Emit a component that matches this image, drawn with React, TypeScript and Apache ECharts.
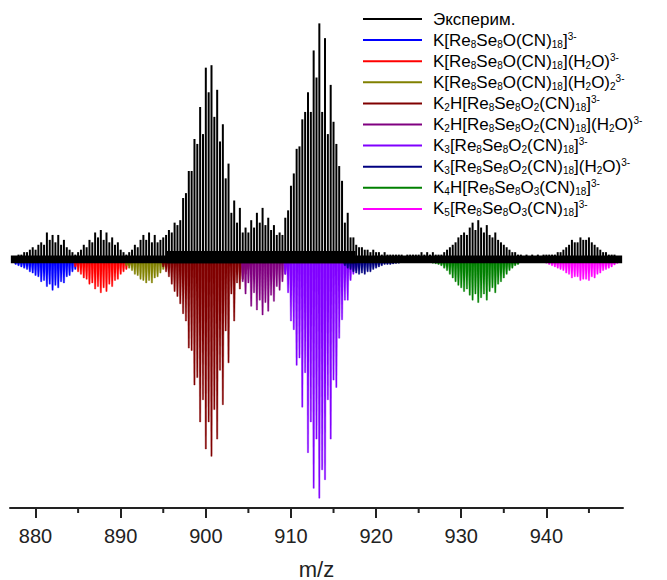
import React, { useEffect, useRef } from "react";
import * as echarts from "echarts";

const FONT = "'Liberation Sans', Arial, Helvetica, sans-serif";

// Isotope spacing for charge 3- ions (m/z units)
const STEP = 1 / 3;

// Experimental spectrum (stick heights, % of full scale), consecutive isotope peaks
const expStart = 877 + 1 / 3;
const expA = [2, 2, 3, 3, 4, 4, 5, 6, 5, 7, 8, 7, 12, 9, 11, 8, 11, 7, 9, 6, 5, 4, 3, 4];
const expB = [5, 7, 6, 9, 8, 12, 10, 13, 9, 12, 8, 10, 7, 8, 5, 4, 3, 4];
const expC = [5, 7, 6, 9, 11, 9, 12, 8, 11, 8, 9, 10, 11, 13, 12, 16, 15];
const expD = [
  17, 26, 28, 37, 37, 50, 48, 63, 52, 79, 69, 80, 59, 70, 49, 56, 34, 40, 20, 25,
  16, 22, 12, 14, 12, 17, 14, 20, 16, 22, 15, 18, 13, 15, 11, 12, 11, 18, 21, 31,
  36, 46, 47, 58, 61, 69, 61, 86, 75, 97, 61, 91, 52, 72, 57, 48, 39, 33, 16, 20,
  10, 10, 7, 6,
];
const expE = [6, 5, 5, 4, 5, 4, 4, 3, 4, 3, 3, 3, 3, 3, 3, 2, 3, 3, 3, 3, 3, 4, 3, 4, 3, 4, 3];
const expF = [3, 3, 4, 5, 6, 7, 8, 10, 11, 12, 11, 14, 16, 13, 17, 14, 12, 15, 11, 10, 12, 9, 8, 7, 6, 5, 4, 4, 3];
const expG = [3, 2, 3, 2, 3, 2, 3, 2, 3, 3, 3, 3, 3, 4, 4, 5, 6, 7, 9, 8, 8, 10, 9, 9, 10, 8, 7, 6, 5, 4, 4, 3, 3, 3, 2, 2];

// Baseline noise of the experimental trace: [from m/z, to m/z, low, high]
const noiseBands = [
  [877.1, 948.9, -0.5, 2.6],
  [895.4, 917.6, -0.5, 4.5],
];

// Simulated spectra (depth below baseline), first m/z and consecutive isotope peaks
const simBlueStart = 877 + 2 / 3;
const simBlue = [1, 1.5, 2, 2.5, 3, 4, 4.5, 5.5, 6, 8, 7.5, 10, 9, 11.5, 9.5, 10.5, 8, 8.5, 6, 5.5, 4, 3, 1.5];
const simRedStart = 884 + 2 / 3;
const simRed = [2, 4, 5, 6.5, 7, 9, 8.5, 11, 10, 12.5, 10.5, 12, 9, 10, 7.5, 7, 5, 4, 3, 1.5];
const simOliveStart = 890 + 2 / 3;
const simOlive = [1.5, 2.5, 3.5, 5, 5.5, 7, 7.5, 8.5, 7.5, 8.5, 6.5, 6, 4.5, 3, 2];
const simWineStart = 895;
const simWine = [2, 4, 6, 9, 12, 14, 17, 21, 24, 35, 36, 50, 47, 65, 56, 76, 65, 79, 60, 72, 44, 58, 28, 41, 13, 24, 8.5, 11, 7, 5, 3, 2];
const simPurpleStart = 904 + 1 / 3;
const simPurple = [8, 13, 8.5, 18, 12.5, 19.5, 15.5, 21.5, 16.5, 20, 13.5, 16, 10, 11.5, 8, 5, 3];
const simVioletStart = 909 + 1 / 3;
const simViolet = [5, 12.5, 24, 27.5, 42, 39, 59, 45, 77.5, 65, 92, 72, 96, 84.5, 88.5, 56, 72, 48, 51, 31, 23.5, 15.5, 15.5, 7.5, 5, 3.5, 1.5];
const simNavyStart = 916 + 1 / 3;
const simNavy = [1.5, 2.5, 3, 4, 4.5, 5, 4.5, 5, 4, 4, 3, 2.5, 2, 1.5, 1, 1, 1, 0.8, 0.6, 0.5];
const simGreenStart = 926 + 2 / 3;
const simGreen = [0.5, 0.7, 1, 1.5, 2.5, 3.5, 5, 6.5, 8, 9.5, 10.5, 12, 11, 13.5, 15.5, 13, 16.5, 14.5, 13, 15.5, 12, 10.5, 12.5, 9, 8, 6.5, 5, 3.5, 2.5, 1.5, 1];
const simMagentaStart = 940;
const simMagenta = [0.5, 1, 1.5, 2, 2.5, 3, 3.5, 4.5, 5, 6.5, 6, 6, 7.5, 7, 7, 7.5, 6, 6.5, 5, 4.5, 3.5, 3, 2.5, 2, 1.2, 0.6];

// Axis ticks
const majorTicks = [880, 890, 900, 910, 920, 930, 940];
const minorTicks = [885, 895, 905, 915, 925, 935, 945];

// Legend names (plain) and rich-text labels
const expName = "Эксперим.";
const simNames = [
  "K[Re8Se8O(CN)18]3-",
  "K[Re8Se8O(CN)18](H2O)3-",
  "K[Re8Se8O(CN)18](H2O)2 3-",
  "K2H[Re8Se8O2(CN)18]3-",
  "K2H[Re8Se8O2(CN)18](H2O)3-",
  "K3[Re8Se8O2(CN)18]3-",
  "K3[Re8Se8O2(CN)18](H2O)3-",
  "K4H[Re8Se8O3(CN)18]3-",
  "K5[Re8Se8O3(CN)18]3-",
];
const simLabels = [
  "K[Re{s|8}Se{s|8}O(CN){s|18}]{p|3-}",
  "K[Re{s|8}Se{s|8}O(CN){s|18}](H{s|2}O){p|3-}",
  "K[Re{s|8}Se{s|8}O(CN){s|18}](H{s|2}O){s|2}{p|3-}",
  "K{s|2}H[Re{s|8}Se{s|8}O{s|2}(CN){s|18}]{p|3-}",
  "K{s|2}H[Re{s|8}Se{s|8}O{s|2}(CN){s|18}](H{s|2}O){p|3-}",
  "K{s|3}[Re{s|8}Se{s|8}O{s|2}(CN){s|18}]{p|3-}",
  "K{s|3}[Re{s|8}Se{s|8}O{s|2}(CN){s|18}](H{s|2}O){p|3-}",
  "K{s|4}H[Re{s|8}Se{s|8}O{s|3}(CN){s|18}]{p|3-}",
  "K{s|5}[Re{s|8}Se{s|8}O{s|3}(CN){s|18}]{p|3-}",
];
const simColors = ["#0000ff", "#ff0000", "#808000", "#800000", "#800080", "#8000ff", "#000080", "#008000", "#ff00ff"];
const simSets: [number, number[]][] = [
  [simBlueStart, simBlue],
  [simRedStart, simRed],
  [simOliveStart, simOlive],
  [simWineStart, simWine],
  [simPurpleStart, simPurple],
  [simVioletStart, simViolet],
  [simNavyStart, simNavy],
  [simGreenStart, simGreen],
  [simMagentaStart, simMagenta],
];

const Y_MIN = -100;
const Y_MAX = 100;

function toPairs(start: number, vals: number[]): number[][] {
  return vals.map((v, i) => [start + i * STEP, v]);
}

export default function App() {
  const ref = useRef<HTMLDivElement>(null);
  useEffect(() => {
    if (!ref.current) return;
    const chart = echarts.init(ref.current, undefined, { renderer: "svg" });
    const expAll = [...expA, ...expB, ...expC, ...expD, ...expE, ...expF, ...expG];
    const expData = toPairs(expStart, expAll);

    const HALF_BASE = 1 / 6;
    const HALF_TIP = 0.07;

    const simSeries = simSets.map(([start, vals], k) => {
      const color = simColors[k];
      return {
        name: simNames[k],
        type: "custom",
        z: 2,
        itemStyle: { color },
        encode: { x: 0, y: 1 },
        data: toPairs(start, vals),
        renderItem: (params: any, api: any) => {
          const x = api.value(0);
          const h = api.value(1);
          const a = api.coord([x - HALF_BASE, 0]);
          const b = api.coord([x - HALF_TIP, -h]);
          const c = api.coord([x + HALF_TIP, -h]);
          const d = api.coord([x + HALF_BASE, 0]);
          return {
            type: "polygon",
            shape: { points: [a, b, c, d] },
            style: { fill: color, stroke: color, lineWidth: 0.4 },
          };
        },
      };
    });

    const expSeries = {
      name: expName,
      type: "custom",
      z: 4,
      itemStyle: { color: "#000" },
      encode: { x: 0, y: 1 },
      data: expData,
      renderItem: (params: any, api: any) => {
        const x = api.value(0);
        const h = api.value(1);
        const p0 = api.coord([x, 0]);
        const p1 = api.coord([x, h]);
        return {
          type: "line",
          shape: { x1: p0[0], y1: p0[1], x2: p1[0], y2: p1[1] },
          style: { stroke: "#000", lineWidth: 2 },
        };
      },
    };

    const noiseSeries = {
      name: "noise",
      type: "custom",
      z: 3,
      silent: true,
      itemStyle: { color: "#000" },
      encode: { x: [0, 1], y: [2, 3] },
      data: noiseBands,
      renderItem: (params: any, api: any) => {
        const p0 = api.coord([api.value(0), api.value(3)]);
        const p1 = api.coord([api.value(1), api.value(2)]);
        return {
          type: "rect",
          shape: { x: p0[0], y: p0[1], width: p1[0] - p0[0], height: p1[1] - p0[1] },
          style: { fill: "#000" },
        };
      },
    };

    // minor ticks (5 px, pointing down from the axis line)
    const minorTickSeries = {
      name: "minorTicks",
      type: "custom",
      z: 5,
      silent: true,
      clip: false,
      encode: { x: 0 },
      data: minorTicks.map((v) => [v, Y_MIN]),
      renderItem: (params: any, api: any) => {
        const p = api.coord([api.value(0), Y_MIN]);
        return {
          type: "line",
          shape: { x1: p[0], y1: p[1], x2: p[0], y2: p[1] + 5 },
          style: { stroke: "#222", lineWidth: 2 },
        };
      },
    };

    const richMap: Record<string, string> = { [expName]: expName };
    simNames.forEach((n, i) => (richMap[n] = simLabels[i]));

    chart.setOption({
      animation: false,
      grid: { left: 10, right: 44, top: 16, bottom: 72, outerBoundsMode: "none", containLabel: false },
      xAxis: {
        type: "value",
        min: 877,
        max: 949,
        position: "bottom",
        axisLine: { onZero: false, lineStyle: { color: "#222", width: 2 } },
        axisTick: { customValues: majorTicks, length: 10, lineStyle: { color: "#222", width: 2 } },
        axisLabel: { customValues: majorTicks, fontSize: 20, color: "#222", margin: 18, fontFamily: FONT },
        splitLine: { show: false },
        name: "m/z",
        nameLocation: "middle",
        nameGap: 50,
        nameTextStyle: { fontSize: 22, color: "#222", fontFamily: FONT },
      },
      yAxis: {
        type: "value",
        min: Y_MIN,
        max: Y_MAX,
        show: false,
        axisLine: { show: false, onZero: false, lineStyle: { color: "rgba(0,0,0,0)" } },
        axisTick: { show: false },
        axisLabel: { show: false },
        splitLine: { show: false },
      },
      graphic: [
        {
          type: "rect",
          z: 1000,
          silent: true,
          shape: { x: 3, y: 264.5, width: 8.8, height: 242.3 },
          style: { fill: "#fff" },
        },
      ],
      legend: {
        orient: "vertical",
        left: 358,
        top: 5,
        itemWidth: 59,
        itemHeight: 2,
        itemGap: 3.1,
        icon: "rect",
        selectedMode: false,
        data: [expName, ...simNames],
        formatter: (n: string) => richMap[n] || n,
        textStyle: {
          fontFamily: FONT,
          fontSize: 17,
          lineHeight: 18,
          color: "#000",
          padding: [0, 0, 0, 6],
          rich: {
            s: { fontSize: 10, lineHeight: 10, verticalAlign: "bottom", fontFamily: FONT, color: "#000" },
            p: { fontSize: 10, lineHeight: 10, verticalAlign: "top", fontFamily: FONT, color: "#000" },
          },
        },
      },
      series: [expSeries, noiseSeries, ...simSeries, minorTickSeries],
    });
    return () => chart.dispose();
  }, []);
  return <div ref={ref} style={{ position: "absolute", left: 0, top: 0, width: 667, height: 580 }} />;
}
